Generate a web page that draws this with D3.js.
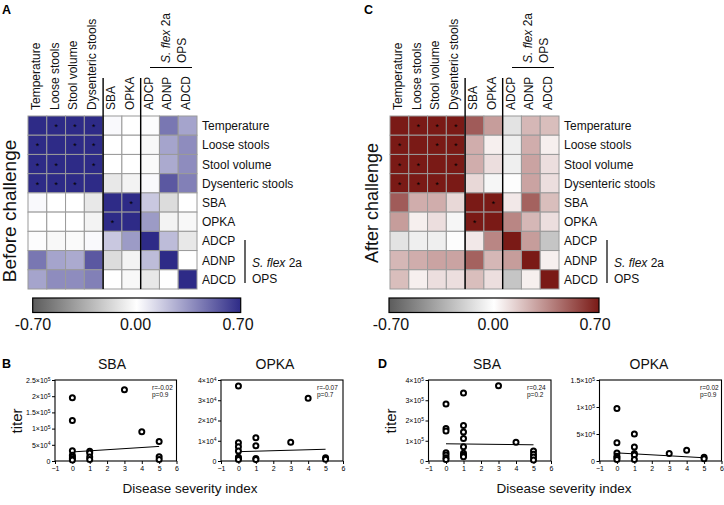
<!DOCTYPE html>
<html><head><meta charset="utf-8">
<script src="https://cdn.jsdelivr.net/npm/d3@7"></script>
<style>body{margin:0;background:#fff} svg{font-family:"Liberation Sans", Arial, sans-serif}</style>
</head><body><svg id="c" width="724" height="505"></svg>
<script>
// ---------- data ----------
const labels = ["Temperature","Loose stools","Stool volume","Dysenteric stools","SBA","OPKA","ADCP","ADNP","ADCD"];
const corrBefore = [
 [1, 0.85, 0.85, 0.85, 0.02, 0.00, 0.01, 0.45, 0.30],
 [0.85, 1, 0.85, 0.85, 0.00, 0.00, -0.03, 0.30, 0.38],
 [0.85, 0.85, 1, 0.85, 0.00, 0.00, -0.02, 0.28, 0.38],
 [0.85, 0.85, 0.85, 1, -0.10, -0.05, 0.02, 0.55, 0.42],
 [0.02, 0.00, 0.00, -0.10, 1, 0.80, 0.18, -0.15, 0.00],
 [0.00, 0.00, 0.00, -0.05, 0.80, 1, 0.33, -0.05, -0.03],
 [0.01, -0.03, -0.02, 0.02, 0.18, 0.33, 1, 0.22, -0.10],
 [0.45, 0.30, 0.28, 0.55, -0.15, -0.05, 0.22, 1, 0.00],
 [0.30, 0.38, 0.38, 0.42, 0.00, -0.03, -0.10, 0.00, 1]
];
const corrAfter = [
 [1, 0.85, 0.85, 0.85, 0.50, 0.30, -0.12, 0.22, 0.20],
 [0.85, 1, 0.85, 0.85, 0.25, 0.05, -0.07, 0.25, 0.05],
 [0.85, 0.85, 1, 0.85, 0.25, 0.10, -0.07, 0.28, 0.10],
 [0.85, 0.85, 0.85, 1, 0.12, -0.04, -0.01, 0.28, 0.10],
 [0.50, 0.25, 0.25, 0.12, 1, 0.85, 0.07, 0.48, 0.20],
 [0.30, 0.05, 0.10, -0.04, 0.85, 1, 0.37, 0.22, 0.10],
 [-0.12, -0.07, -0.07, -0.01, 0.07, 0.37, 1, 0.30, -0.25],
 [0.22, 0.25, 0.28, 0.28, 0.48, 0.22, 0.30, 1, 0.05],
 [0.20, 0.05, 0.10, 0.10, 0.20, 0.10, -0.25, 0.05, 1]
];
const starsBefore = [[0,1],[0,2],[0,3],[1,0],[1,2],[1,3],[2,0],[2,1],[2,3],[3,0],[3,1],[3,2],[4,5],[5,4]];
const starsAfter  = [[0,1],[0,2],[0,3],[1,0],[1,2],[1,3],[2,0],[2,1],[2,3],[3,0],[3,1],[3,2],[4,5],[5,4]];
const colorbarTicks = [-0.70, 0.00, 0.70];
const xTicks = [-1, 0, 1, 2, 3, 4, 5, 6];

const sbaBefore = [[0,195000],[0,125000],[0,32000],[0,18000],[0,12000],[0,7000],[0,3000],[1,30000],[1,25000],[1,12000],[1,5000],[3,220000],[4,90000],[5,60000],[5,13000],[5,5000]];
const sbaBeforeFit = [[0,28000],[5,45000]];
const sbaBeforeTicks = [0, 50000, 100000, 150000, 200000, 250000];
const opkaBefore = [[0,37000],[0,9000],[0,7000],[0,5000],[0,1800],[0,1200],[0,800],[1,11500],[1,7500],[1,1200],[1,700],[3,9200],[4,31000],[5,1600],[5,900]];
const opkaBeforeFit = [[0,4600],[5,5800]];
const opkaBeforeTicks = [0, 10000, 20000, 30000, 40000];
const sbaAfter = [[0,282000],[0,160000],[0,148000],[0,41000],[0,30000],[0,16000],[0,7000],[1,336000],[1,175000],[1,143000],[1,111000],[1,70000],[1,38000],[1,28000],[1,21000],[3,372000],[4,93000],[5,49000],[5,33000],[5,20000],[5,5000]];
const sbaAfterFit = [[0,85000],[5,80000]];
const sbaAfterTicks = [0, 100000, 200000, 300000, 400000];
const opkaAfter = [[0,97000],[0,34000],[0,15000],[0,9000],[0,6000],[0,3000],[1,50000],[1,26000],[1,14000],[1,11000],[1,3000],[3,14000],[4,20000],[5,7000],[5,4000]];
const opkaAfterFit = [[0,15000],[5,6000]];
const opkaAfterTicks = [0, 50000, 100000, 150000];
const stats = [["r=-0.02","p=0.9"],["r=-0.07","p=0.7"],["r=0.24","p=0.2"],["r=0.02","p=0.9"]];

// ---------- drawing ----------
const svg = d3.select("#c");

function heatmap(dx, matrix, stars, hiColor, sideTitle, sideY, sideSize, letter, cbRange, cbLabelRange, gradId){
  const g = svg.append("g");
  const x = d3.scaleBand().domain(d3.range(9)).range([28+dx, 197+dx]);
  const y = d3.scaleBand().domain(d3.range(9)).range([116, 289]);
  const color = d3.scaleLinear().domain([-0.7,0,0.7]).range(["#5c5c5c","#ffffff",hiColor]).clamp(true);
  const cells = [];
  matrix.forEach((row,i)=>row.forEach((v,j)=>cells.push({i,j,v})));
  g.selectAll("rect.cell").data(cells).join("rect")
    .attr("x", d=>x(d.j)).attr("y", d=>y(d.i))
    .attr("width", x.bandwidth()).attr("height", y.bandwidth())
    .attr("fill", d=>color(d.v)).attr("stroke","#9a9a9a").attr("stroke-width",1);
  g.selectAll("text.star").data(stars).join("text")
    .attr("x", d=>x(d[1])+x.bandwidth()/2).attr("y", d=>y(d[0])+y.bandwidth()/2+4.5)
    .attr("text-anchor","middle").attr("font-size","9px").attr("fill","#000").text("*");
  g.selectAll("text.col").data(labels).join("text")
    .attr("transform",(d,i)=>`translate(${x(i)+x.bandwidth()/2+2.5},110) rotate(-90)`)
    .attr("font-size","12px").attr("fill","#111").text(d=>d);
  g.selectAll("text.row").data(labels).join("text")
    .attr("x", 202+dx).attr("y",(d,i)=>y(i)+y.bandwidth()/2+4.5)
    .attr("font-size","12px").attr("fill","#111").text(d=>d);
  [4,6].forEach(k=>{
    g.append("line").attr("x1",x(k)).attr("x2",x(k)).attr("y1",78).attr("y2",289)
      .attr("stroke","#000").attr("stroke-width",1.4);
  });
  g.append("line").attr("x1",150+dx).attr("x2",192+dx).attr("y1",67.5).attr("y2",67.5).attr("stroke","#000").attr("stroke-width",1.2);
  const t1 = g.append("text").attr("transform",`translate(${170+dx},63) rotate(-90)`).attr("font-size","12px").attr("fill","#111");
  t1.append("tspan").attr("font-style","italic").text("S. flex");
  t1.append("tspan").text(" 2a");
  g.append("text").attr("transform",`translate(${185.5+dx},63) rotate(-90)`).attr("font-size","12px").attr("fill","#111").text("OPS");
  g.append("line").attr("x1",245+dx).attr("x2",245+dx).attr("y1",240).attr("y2",283).attr("stroke","#000").attr("stroke-width",1.2);
  const t2 = g.append("text").attr("x",252+dx).attr("y",267).attr("font-size","12px").attr("fill","#111");
  t2.append("tspan").attr("font-style","italic").text("S. flex");
  t2.append("tspan").text(" 2a");
  g.append("text").attr("x",252+dx).attr("y",283).attr("font-size","12px").attr("fill","#111").text("OPS");
  g.append("text").attr("transform",`translate(${16+dx},${sideY}) rotate(-90)`).attr("text-anchor","middle")
    .attr("font-size",sideSize+"px").attr("fill","#111").text(sideTitle);
  g.append("text").attr("x",2+dx).attr("y",14).attr("font-size","12.5px").attr("font-weight","bold").text(letter);
  const grad = svg.append("defs").append("linearGradient").attr("id",gradId);
  grad.append("stop").attr("offset","0%").attr("stop-color","#5c5c5c");
  grad.append("stop").attr("offset","50%").attr("stop-color","#ffffff");
  grad.append("stop").attr("offset","100%").attr("stop-color",hiColor);
  g.append("rect").attr("x",cbRange[0]).attr("y",298).attr("width",cbRange[1]-cbRange[0]).attr("height",14.5)
    .attr("fill",`url(#${gradId})`).attr("stroke","#000").attr("stroke-width",1.2);
  const cs = d3.scaleLinear().domain([-0.7,0.7]).range(cbLabelRange);
  g.selectAll("text.cb").data(colorbarTicks).join("text")
    .attr("x",d=>cs(d)).attr("y",330).attr("text-anchor","middle").attr("font-size","16px").attr("fill","#111")
    .text(d=>d.toFixed(2));
}

heatmap(0, corrBefore, starsBefore, "#2e2b87", "Before challenge", 211, 19, "A", [32.7,240.7], [33,238], "gA");
heatmap(362, corrAfter, starsAfter, "#7a1a16", "After challenge", 203, 18, "C", [389,599], [391,595], "gC");

function sci(g){
  g.selectAll(".tick text").each(function(d){
    const t = d3.select(this); t.text(null);
    if(d===0){ t.text("0"); return; }
    const e = Math.floor(Math.log10(d)); const m = +(d/Math.pow(10,e)).toFixed(2);
    t.append("tspan").text(m+"×10");
    t.append("tspan").attr("dy","-0.45em").attr("font-size","5px").text(e);
  });
}

function scatter(x0, x1, data, fit, yMax, yTicks, title, titleX, st, statsX){
  const g = svg.append("g");
  const xs = d3.scaleLinear().domain([-1,6]).range([x0,x1]);
  const ys = d3.scaleLinear().domain([0,yMax]).range([461,380]);
  g.append("g").attr("transform",`translate(${x0},0)`)
    .call(d3.axisLeft(ys).tickValues(yTicks).tickSize(3).tickPadding(1.5))
    .call(a=>a.select(".domain").remove())
    .call(sci)
    .attr("font-size","7px").attr("font-family","Liberation Sans, Arial, sans-serif");
  g.append("g").attr("transform","translate(0,461)")
    .call(d3.axisBottom(xs).tickValues(xTicks).tickFormat(d3.format("d")).tickSize(3).tickPadding(2))
    .call(a=>a.select(".domain").remove())
    .attr("font-size","7px").attr("font-family","Liberation Sans, Arial, sans-serif");
  g.append("rect").attr("x",x0).attr("y",380).attr("width",x1-x0).attr("height",81)
    .attr("fill","none").attr("stroke","#000").attr("stroke-width",1.1);
  g.append("path").datum(fit).attr("d",d3.line().x(d=>xs(d[0])).y(d=>ys(d[1])))
    .attr("stroke","#000").attr("stroke-width",1).attr("fill","none");
  g.selectAll("circle").data(data).join("circle")
    .attr("cx",d=>xs(d[0])).attr("cy",d=>ys(d[1])).attr("r",2.5)
    .attr("fill","#fff").attr("stroke","#000").attr("stroke-width",2);
  g.append("text").attr("x",titleX).attr("y",369).attr("text-anchor","middle").attr("font-size","14px").attr("fill","#111").text(title);
  g.selectAll("text.st").data(st).join("text").attr("x",statsX).attr("y",(d,i)=>389.5+i*7.8)
    .attr("font-size","6.5px").attr("fill","#111").text(d=>d);
}

scatter(55, 176.5, sbaBefore, sbaBeforeFit, 250000, sbaBeforeTicks, "SBA", 112, stats[0], 152);
scatter(221, 343, opkaBefore, opkaBeforeFit, 40000, opkaBeforeTicks, "OPKA", 275, stats[1], 317);
scatter(428.5, 551, sbaAfter, sbaAfterFit, 400000, sbaAfterTicks, "SBA", 487, stats[2], 527);
scatter(599.5, 721.5, opkaAfter, opkaAfterFit, 150000, opkaAfterTicks, "OPKA", 649, stats[3], 700);

[[0,"B",2],[374,"D",378]].forEach(([dx,l,lx])=>{
  svg.append("text").attr("x",lx).attr("y",368).attr("font-size","12.5px").attr("font-weight","bold").text(l);
  svg.append("text").attr("transform",`translate(${22+dx},421) rotate(-90)`).attr("text-anchor","middle")
    .attr("font-size","15px").attr("fill","#111").text("titer");
  svg.append("text").attr("x",190+dx).attr("y",493).attr("text-anchor","middle")
    .attr("font-size","13.5px").attr("fill","#111").text("Disease severity index");
});
</script></body></html>
